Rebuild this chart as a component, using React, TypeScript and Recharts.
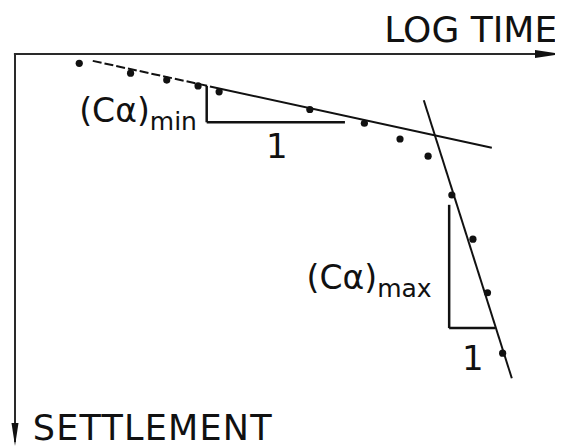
import * as React from "react";
import {
  ComposedChart,
  XAxis,
  YAxis,
  Scatter,
  ReferenceLine,
  ReferenceDot,
} from "recharts";

// Measured settlement readings against log time (settlement grows downward).
const logTime = [1.19, 2.14, 2.81, 3.39, 3.78, 5.46, 6.47, 7.13, 7.65, 8.09, 8.48, 8.75, 9.03];
const settlement = [0.19, 0.39, 0.53, 0.65, 0.77, 1.13, 1.41, 1.73, 2.08, 2.87, 3.77, 4.86, 6.09];

// Fitted straight lines: secondary compression (flat) and the steep collapse branch.
const minFit = [
  { x: 1.44, y: 0.14 },
  { x: 3.61, y: 0.66 },
  { x: 8.83, y: 1.91 },
];
const maxFit = [
  { x: 7.57, y: 0.94 },
  { x: 9.2, y: 6.6 },
];

// Slope triangles (vertical leg, corner, horizontal leg of length "1").
const minTriangle = [
  { x: 3.55, y: 0.65 },
  { x: 3.55, y: 1.39 },
  { x: 6.11, y: 1.39 },
];
const maxTriangle = [
  { x: 8.04, y: 3.07 },
  { x: 8.04, y: 5.58 },
  { x: 8.89, y: 5.58 },
];

const points = logTime.map((x, i) => ({ x, y: settlement[i] }));

const FONT = "'DejaVu Sans', sans-serif";
const INK = "#111";

type Pt = { x: number; y: number };
const seg = (a: Pt, b: Pt) => [a, b] as [Pt, Pt];

function Caption({
  cx,
  cy,
  main,
  sub,
  anchor = "start",
  size = 34,
  spacing = 0,
}: {
  cx?: number;
  cy?: number;
  main: string;
  sub?: string;
  anchor?: "start" | "middle" | "end";
  size?: number;
  spacing?: number;
}) {
  return (
    <text
      x={cx}
      y={cy}
      textAnchor={anchor}
      fontFamily={FONT}
      fontSize={size}
      letterSpacing={spacing}
      fill={INK}
    >
      <tspan>{main}</tspan>
      {sub ? (
        <tspan dy={8} fontSize={25}>
          {sub}
        </tspan>
      ) : null}
    </text>
  );
}

export default function App() {
  return (
    <ComposedChart
      width={555}
      height={439}
      data={points}
      margin={{ top: 46, right: 8, bottom: 0, left: 7 }}
      style={{ overflow: "visible" }}
    >
      <XAxis type="number" dataKey="x" domain={[0, 10]} hide allowDataOverflow />
      <YAxis type="number" dataKey="y" domain={[0, 8]} reversed hide allowDataOverflow />

      {/* axes: log time along the top, settlement down the left */}
      <ReferenceLine
        segment={seg({ x: -0.02, y: 0 }, { x: 9.9, y: 0 })}
        stroke="#2a2a2a"
        strokeWidth={2}
        ifOverflow="visible"
      />
      <ReferenceLine
        segment={seg({ x: 0, y: 0 }, { x: 0, y: 7.9 })}
        stroke="#2a2a2a"
        strokeWidth={2}
        ifOverflow="visible"
      />
      <ReferenceDot
        x={10}
        y={0}
        ifOverflow="visible"
        shape={(p: any) => (
          <polygon
            points={`${p.cx + 6},${p.cy} ${p.cx - 20},${p.cy - 4} ${p.cx - 20},${p.cy + 4}`}
            fill={INK}
          />
        )}
      />
      <ReferenceDot
        x={0}
        y={8}
        ifOverflow="visible"
        shape={(p: any) => (
          <polygon
            points={`${p.cx},${p.cy - 1} ${p.cx - 3.5},${p.cy - 24} ${p.cx + 3.5},${p.cy - 24}`}
            fill={INK}
          />
        )}
      />

      {/* flat branch: dashed near the start, solid afterwards */}
      <ReferenceLine
        segment={seg(minFit[0], minFit[1])}
        stroke={INK}
        strokeWidth={2}
        strokeDasharray="9 3"
        ifOverflow="visible"
      />
      <ReferenceLine
        segment={seg(minFit[1], minFit[2])}
        stroke={INK}
        strokeWidth={2}
        ifOverflow="visible"
      />
      <ReferenceLine
        segment={seg(maxFit[0], maxFit[1])}
        stroke={INK}
        strokeWidth={2}
        ifOverflow="visible"
      />

      {/* slope triangles */}
      <ReferenceLine segment={seg(minTriangle[0], minTriangle[1])} stroke={INK} strokeWidth={2.5} />
      <ReferenceLine segment={seg(minTriangle[1], minTriangle[2])} stroke={INK} strokeWidth={2.5} />
      <ReferenceLine segment={seg(maxTriangle[0], maxTriangle[1])} stroke={INK} strokeWidth={2.5} />
      <ReferenceLine segment={seg(maxTriangle[1], maxTriangle[2])} stroke={INK} strokeWidth={2.5} />

      <Scatter
        data={points}
        isAnimationActive={false}
        shape={(p: any) => <circle cx={p.cx} cy={p.cy} r={3.6} fill={INK} />}
      />

      {/* captions */}
      <ReferenceDot
        x={10.04}
        y={-0.24}
        ifOverflow="visible"
        shape={(p: any) => <Caption cx={p.cx} cy={p.cy} main="LOG TIME" anchor="end" size={36} />}
      />
      <ReferenceDot
        x={0.33}
        y={7.86}
        ifOverflow="visible"
        shape={(p: any) => <Caption cx={p.cx} cy={p.cy} main="SETTLEMENT" size={35} spacing={1.2} />}
      />
      <ReferenceDot
        x={1.19}
        y={1.38}
        ifOverflow="visible"
        shape={(p: any) => <Caption cx={p.cx} cy={p.cy} main="(Cα)" sub="min" size={33} />}
      />
      <ReferenceDot
        x={5.4}
        y={4.78}
        ifOverflow="visible"
        shape={(p: any) => <Caption cx={p.cx} cy={p.cy} main="(Cα)" sub="max" size={33} />}
      />
      <ReferenceDot
        x={4.85}
        y={2.12}
        ifOverflow="visible"
        shape={(p: any) => <Caption cx={p.cx} cy={p.cy} main="1" anchor="middle" />}
      />
      <ReferenceDot
        x={8.48}
        y={6.43}
        ifOverflow="visible"
        shape={(p: any) => <Caption cx={p.cx} cy={p.cy} main="1" anchor="middle" />}
      />
    </ComposedChart>
  );
}
